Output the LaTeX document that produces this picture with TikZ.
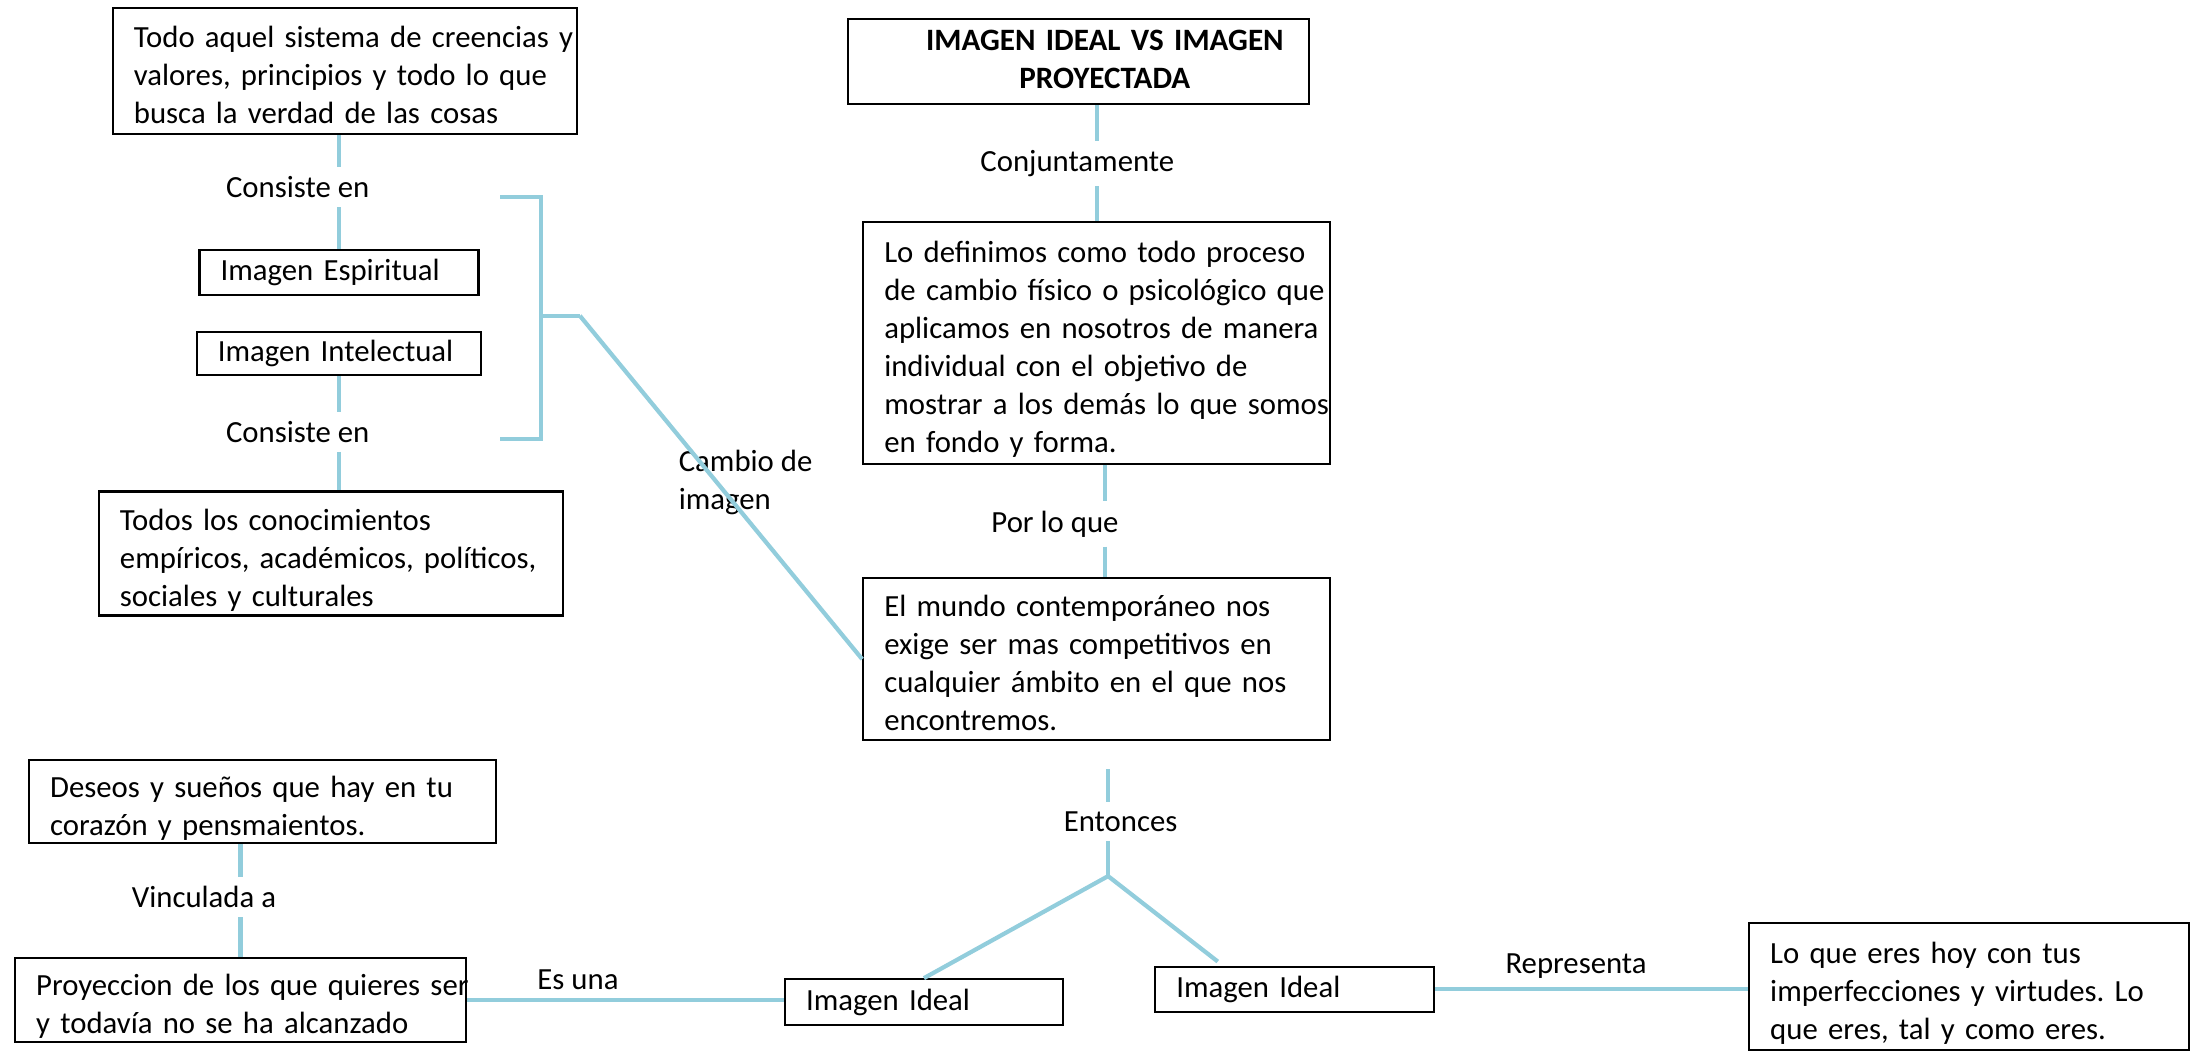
\documentclass[tikz,border=0pt]{standalone}
\usepackage{fontspec}
\setmainfont{Carlito}
\usetikzlibrary{calc}
\definecolor{linkblue}{RGB}{146,205,220}
\newcommand{\boxlines}[1]{\raisebox{-0.07cm}[\height][\depth]{\begin{tabular}{@{}l@{}}#1\end{tabular}}}
\frenchspacing

\begin{document}
\begin{tikzpicture}[x=0.13973mm,y=-0.13973mm,
    every node/.style={font=\fontsize{8.75}{10.85}\selectfont},
    box/.style 2 args={draw=black,line width=0.6pt,anchor=north west,align=left,
      inner xsep=6pt,inner ysep=1pt,text width=#1-12pt,minimum height=#2},
    lbl/.style={inner sep=2.5pt},
    link/.style={draw=linkblue,line width=1.2pt}]
  \useasboundingbox (0,0) rectangle (1568,752);

  % left column
  \node[box={4.64cm}{1.26cm}] (sistema) at (80,5)
    {\boxlines{Todo aquel sistema de creencias y\\valores, principios y todo lo que\\busca la verdad de las cosas}};
  \node[lbl] (cons1) at (213,134) {Consiste en};
  \node[box={2.79cm}{0.45cm}] (espir) at (142,178) {Imagen Espiritual};
  \node[box={2.84cm}{0.43cm}] (intel) at (140,237) {Imagen Intelectual};
  \node[lbl] (cons2) at (213,309) {Consiste en};
  \node[box={4.64cm}{1.24cm}] (conoc) at (70,351)
    {\boxlines{Todos los conocimientos\\empíricos, académicos, políticos,\\sociales y culturales}};
  \node[lbl,anchor=west,align=left] (cambio) at (479,345) {Cambio de\\imagen};

  \draw[link] (sistema.south -| espir.north) -- (cons1.north -| espir.north);
  \draw[link] (cons1.south -| espir.north) -- (espir.north);
  \draw[link] (intel.south) -- (cons2.north -| intel.south);
  \draw[link] (cons2.south -| intel.south) -- (conoc.north -| intel.south);

  % bracket
  \coordinate (brtop) at (358,141);
  \coordinate (brbot) at (358,314);
  \coordinate (brmid) at (415,226);
  \draw[link] (brtop) -- (387,141) -- (387,314) -- (brbot);
  \draw[link] (387,226) -- (brmid);

  % center column
  \node[box={4.61cm}{0.85cm},align=center,font=\fontsize{8.85}{10.85}\selectfont\bfseries] (titulo) at (606,13)
    {\hspace*{0.53cm}\begin{tabular}{@{}c@{}}IMAGEN IDEAL VS IMAGEN\\PROYECTADA\end{tabular}};
  \node[lbl] (conj) at (771,117) {Conjuntamente};
  \node[box={4.67cm}{2.42cm}] (defin) at (617,158)
    {\boxlines{Lo definimos como todo proceso\\de cambio físico o psicológico que\\aplicamos en nosotros de manera\\individual con el objetivo de\\mostrar a los demás lo que somos\\en fondo y forma.}};
  \node[lbl] (porlo) at (755,375) {Por lo que};
  \node[box={4.67cm}{1.62cm}] (mundo) at (617,413)
    {\boxlines{El mundo contemporáneo nos\\exige ser mas competitivos en\\cualquier ámbito en el que nos\\encontremos.}};
  \node[lbl] (entonces) at (802,588) {Entonces};

  \draw[link] (brmid) -- (mundo.west);
  \draw[link] (titulo.south -| defin.north) -- (conj.north -| defin.north);
  \draw[link] (conj.south -| defin.north) -- (defin.north);
  \coordinate (c2) at ([xshift=0.08cm]defin.south);
  \draw[link] (c2) -- (c2 |- porlo.north);
  \draw[link] (c2 |- porlo.south) -- (c2 |- mundo.north);

  % bottom row
  \node[box={4.67cm}{0.82cm}] (deseos) at (20,543)
    {\boxlines{Deseos y sueños que hay en tu\\corazón y pensmaientos.}};
  \node[lbl] (vinc) at (146,642) {Vinculada a};
  \node[box={4.51cm}{0.84cm}] (proy) at (10,685)
    {\boxlines{Proyeccion de los que quieres ser\\y todavía no se ha alcanzado}};
  \node[box={2.78cm}{0.46cm}] (idealL) at (561,700) {Imagen Ideal};
  \node[box={2.79cm}{0.45cm}] (idealR) at (826,691) {Imagen Ideal};
  \node[box={4.40cm}{1.27cm}] (eres) at (1251,660)
    {\boxlines{Lo que eres hoy con tus\\imperfecciones y virtudes. Lo\\que eres, tal y como eres.}};

  \coordinate (fork) at (793,627);
  \coordinate (forkR) at ([xshift=-0.77cm,yshift=0.04cm]idealR.north);
  \draw[link,shorten <=0.28cm] (mundo.south -| fork) -- (entonces.north -| fork);
  \draw[link] (entonces.south -| fork) -- (fork);
  \draw[link] (fork) -- (idealL.north);
  \draw[link] (fork) -- (forkR);
  \draw[link] (deseos.south -| proy.north) -- (vinc.north -| proy.north);
  \draw[link] (vinc.south -| proy.north) -- (proy.north);
  \draw[link] (proy.east) -- node[lbl,above,pos=0.35] (esuna) {Es una} (proy.east -| idealL.west);
  \draw[link] (idealR.east) -- node[lbl,above,pos=0.45] (repr) {Representa} (idealR.east -| eres.west);
\end{tikzpicture}
\end{document}
